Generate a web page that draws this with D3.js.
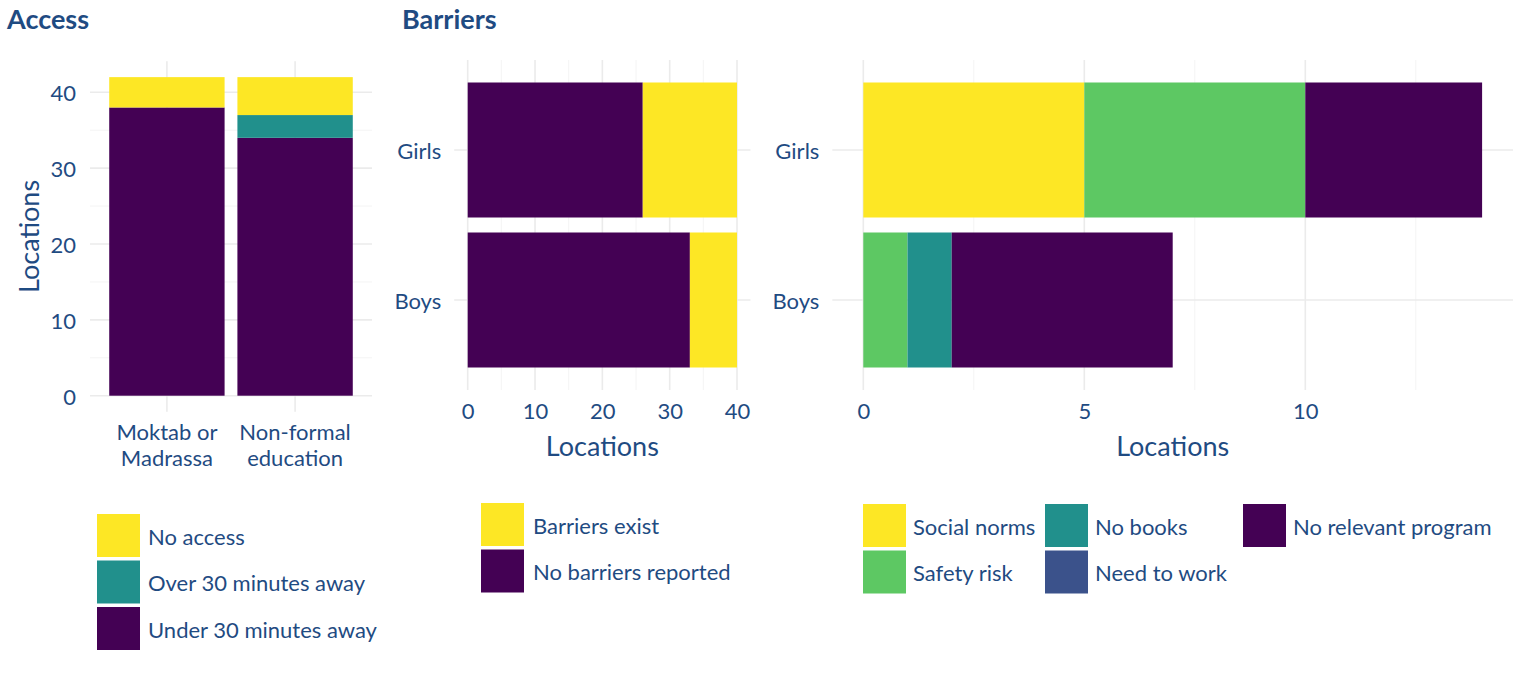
<!DOCTYPE html>
<html>
<head>
    <meta charset="utf-8">
    <style>
        body { margin: 0; background: #fff; }
        text { font-family: "Lato", sans-serif; fill: #1f4b82; }
        .title { font-size: 27px; font-weight: bold; }
        .tick text { font-size: 22px; }
        .axis-title { font-size: 27px; }
        .legend text { font-size: 22px; }
        .major { stroke: #ebebeb; stroke-width: 1.6; }
        .minor { stroke: #f3f3f3; stroke-width: 0.9; }
    </style>
</head>
<body>
    <svg width="1530" height="689"></svg>

    <script src="https://d3js.org/d3.v7.min.js"></script>

    <script>
        // ---- data ----
        var accessCats = ["Moktab or Madrassa", "Non-formal education"];
        var accessKeys = ["Under 30 minutes away", "Over 30 minutes away", "No access"];
        var accessUnder = [38, 34];
        var accessOver = [0, 3];
        var accessNone = [4, 5];
        var accessTicks = [0, 10, 20, 30, 40];

        var groups = ["Girls", "Boys"];
        var barrierKeys = ["No barriers reported", "Barriers exist"];
        var noBarriers = [26, 33];
        var barriersExist = [14, 7];
        var barrierTicks = [0, 10, 20, 30, 40];

        var reasonKeys = ["Social norms", "Safety risk", "No books", "Need to work", "No relevant program"];
        var socialNorms = [5, 0];
        var safetyRisk = [5, 1];
        var noBooks = [0, 1];
        var needToWork = [0, 0];
        var noProgram = [4, 5];
        var reasonTicks = [0, 5, 10];

        var colors = {
            "Under 30 minutes away": "#440154",
            "Over 30 minutes away": "#21908C",
            "No access": "#FDE725",
            "No barriers reported": "#440154",
            "Barriers exist": "#FDE725",
            "Social norms": "#FDE725",
            "Safety risk": "#5DC863",
            "No books": "#21908C",
            "Need to work": "#3B528B",
            "No relevant program": "#440154"
        };

        var svg = d3.select("svg");

        // tables for d3.stack
        var accessRows = accessCats.map(function(c, i) {
            return {cat: c, "Under 30 minutes away": accessUnder[i], "Over 30 minutes away": accessOver[i], "No access": accessNone[i]};
        });
        var barrierRows = groups.map(function(g, i) {
            return {cat: g, "No barriers reported": noBarriers[i], "Barriers exist": barriersExist[i]};
        });
        var reasonRows = groups.map(function(g, i) {
            return {cat: g, "Social norms": socialNorms[i], "Safety risk": safetyRisk[i], "No books": noBooks[i],
                    "Need to work": needToWork[i], "No relevant program": noProgram[i]};
        });

        // titles
        svg.append("text").attr("class", "title").attr("x", 7).attr("y", 29).text("Access");
        svg.append("text").attr("class", "title").attr("x", 402).attr("y", 29).text("Barriers");

        // ---- panel 1: vertical stacked bars ----
        (function() {
            var g = svg.append("g");
            var x = d3.scaleBand().domain(accessCats).range([90, 372]).paddingInner(0.1).paddingOuter(0.15);
            var y = d3.scaleLinear().domain([0, 40]).range([395.7, 92.3]);
            var top = y(44.1), bottom = y(-2.1);

            var minors = [5, 15, 25, 35];
            g.selectAll(".minor").data(minors).enter().append("line").attr("class", "minor")
                .attr("x1", 90).attr("x2", 372).attr("y1", y).attr("y2", y);
            g.selectAll(".hmaj").data(accessTicks).enter().append("line").attr("class", "major")
                .attr("x1", 90).attr("x2", 372).attr("y1", y).attr("y2", y);
            g.selectAll(".vmaj").data(accessCats).enter().append("line").attr("class", "major")
                .attr("x1", function(d) { return x(d) + x.bandwidth() / 2; })
                .attr("x2", function(d) { return x(d) + x.bandwidth() / 2; })
                .attr("y1", top).attr("y2", bottom);

            var series = d3.stack().keys(accessKeys)(accessRows);
            g.selectAll(".layer").data(series).enter().append("g")
                .attr("fill", function(d) { return colors[d.key]; })
                .selectAll("rect").data(function(d) { return d; }).enter().append("rect")
                .attr("x", function(d) { return x(d.data.cat); })
                .attr("width", x.bandwidth())
                .attr("y", function(d) { return y(d[1]); })
                .attr("height", function(d) { return y(d[0]) - y(d[1]); });

            var ya = g.append("g").attr("transform", "translate(90,0)")
                .call(d3.axisLeft(y).tickValues(accessTicks).tickFormat(d3.format("d")).tickSize(0).tickPadding(14));
            ya.select(".domain").remove();
            ya.selectAll(".tick text").attr("dy", "0.38em");

            var xa = g.append("g").attr("transform", "translate(0," + bottom + ")")
                .call(d3.axisBottom(x).tickSize(0).tickPadding(13));
            xa.select(".domain").remove();
            xa.selectAll(".tick text").each(function(d) {
                var t = d3.select(this);
                var lines = d === "Moktab or Madrassa" ? ["Moktab or", "Madrassa"] : ["Non-formal", "education"];
                t.text(null);
                lines.forEach(function(l, i) {
                    t.append("tspan").attr("x", 0).attr("dy", i === 0 ? "0.71em" : "1.15em").text(l);
                });
            });

            svg.append("text").attr("class", "axis-title")
                .attr("transform", "translate(39," + ((top + bottom) / 2) + ") rotate(-90)")
                .attr("text-anchor", "middle").text("Locations");
        })();

        // ---- horizontal panels ----
        function hpanel(rows, keys, ticks, minors, x0, x1, v1, total, pad) {
            var g = svg.append("g");
            var y = d3.scaleBand().domain(groups).range([60, 390]).paddingInner(0.1).paddingOuter(0.15);
            var x = d3.scaleLinear().domain([0, v1]).range([x0, x1]);
            var left = x(-pad), right = x(total + pad);

            g.selectAll(".minor").data(minors).enter().append("line").attr("class", "minor")
                .attr("x1", x).attr("x2", x).attr("y1", 60).attr("y2", 390);
            g.selectAll(".vmaj").data(ticks).enter().append("line").attr("class", "major")
                .attr("x1", x).attr("x2", x).attr("y1", 60).attr("y2", 390);
            g.selectAll(".hmaj").data(groups).enter().append("line").attr("class", "major")
                .attr("x1", left).attr("x2", right)
                .attr("y1", function(d) { return y(d) + y.bandwidth() / 2; })
                .attr("y2", function(d) { return y(d) + y.bandwidth() / 2; });

            var series = d3.stack().keys(keys)(rows);
            g.selectAll(".layer").data(series).enter().append("g")
                .attr("fill", function(d) { return colors[d.key]; })
                .selectAll("rect").data(function(d) { return d; }).enter().append("rect")
                .attr("y", function(d) { return y(d.data.cat); })
                .attr("height", y.bandwidth())
                .attr("x", function(d) { return x(d[0]); })
                .attr("width", function(d) { return x(d[1]) - x(d[0]); });

            var ya = g.append("g").attr("transform", "translate(" + left + ",0)")
                .call(d3.axisLeft(y).tickSize(0).tickPadding(13));
            ya.select(".domain").remove();
            ya.selectAll(".tick text").attr("dy", "0.42em");

            var xa = g.append("g").attr("transform", "translate(0,390)")
                .call(d3.axisBottom(x).tickValues(ticks).tickFormat(d3.format("d")).tickSize(0).tickPadding(13));
            xa.select(".domain").remove();

            g.append("text").attr("class", "axis-title").attr("text-anchor", "middle")
                .attr("x", (left + right) / 2).attr("y", 456).text("Locations");
        }

        hpanel(barrierRows, barrierKeys, barrierTicks, [5, 15, 25, 35], 467.7, 737, 40, 40, 2);
        hpanel(reasonRows, reasonKeys, reasonTicks, [2.5, 7.5, 12.5], 863.3, 1084.3, 5, 14, 0.7);

        // ---- legends ----
        function legend(items, x, y, textGap) {
            var g = svg.append("g").attr("class", "legend");
            var it = g.selectAll("g").data(items).enter().append("g")
                .attr("transform", function(d) { return "translate(" + (x + d.col) + "," + (y + d.row * 46.5) + ")"; });
            it.append("rect").attr("width", 43).attr("height", 43)
                .attr("fill", function(d) { return colors[d.key]; });
            it.append("text").attr("x", 43 + textGap).attr("y", 23).attr("dy", "0.35em")
                .text(function(d) { return d.key; });
        }

        legend([
            {key: "No access", col: 0, row: 0},
            {key: "Over 30 minutes away", col: 0, row: 1},
            {key: "Under 30 minutes away", col: 0, row: 2}
        ], 97, 514, 8);
        legend([
            {key: "Barriers exist", col: 0, row: 0},
            {key: "No barriers reported", col: 0, row: 1}
        ], 481, 503, 9);
        legend([
            {key: "Social norms", col: 0, row: 0},
            {key: "Safety risk", col: 0, row: 1},
            {key: "No books", col: 182, row: 0},
            {key: "Need to work", col: 182, row: 1},
            {key: "No relevant program", col: 380, row: 0}
        ], 863, 504, 7);
    </script>
</body>
</html>
